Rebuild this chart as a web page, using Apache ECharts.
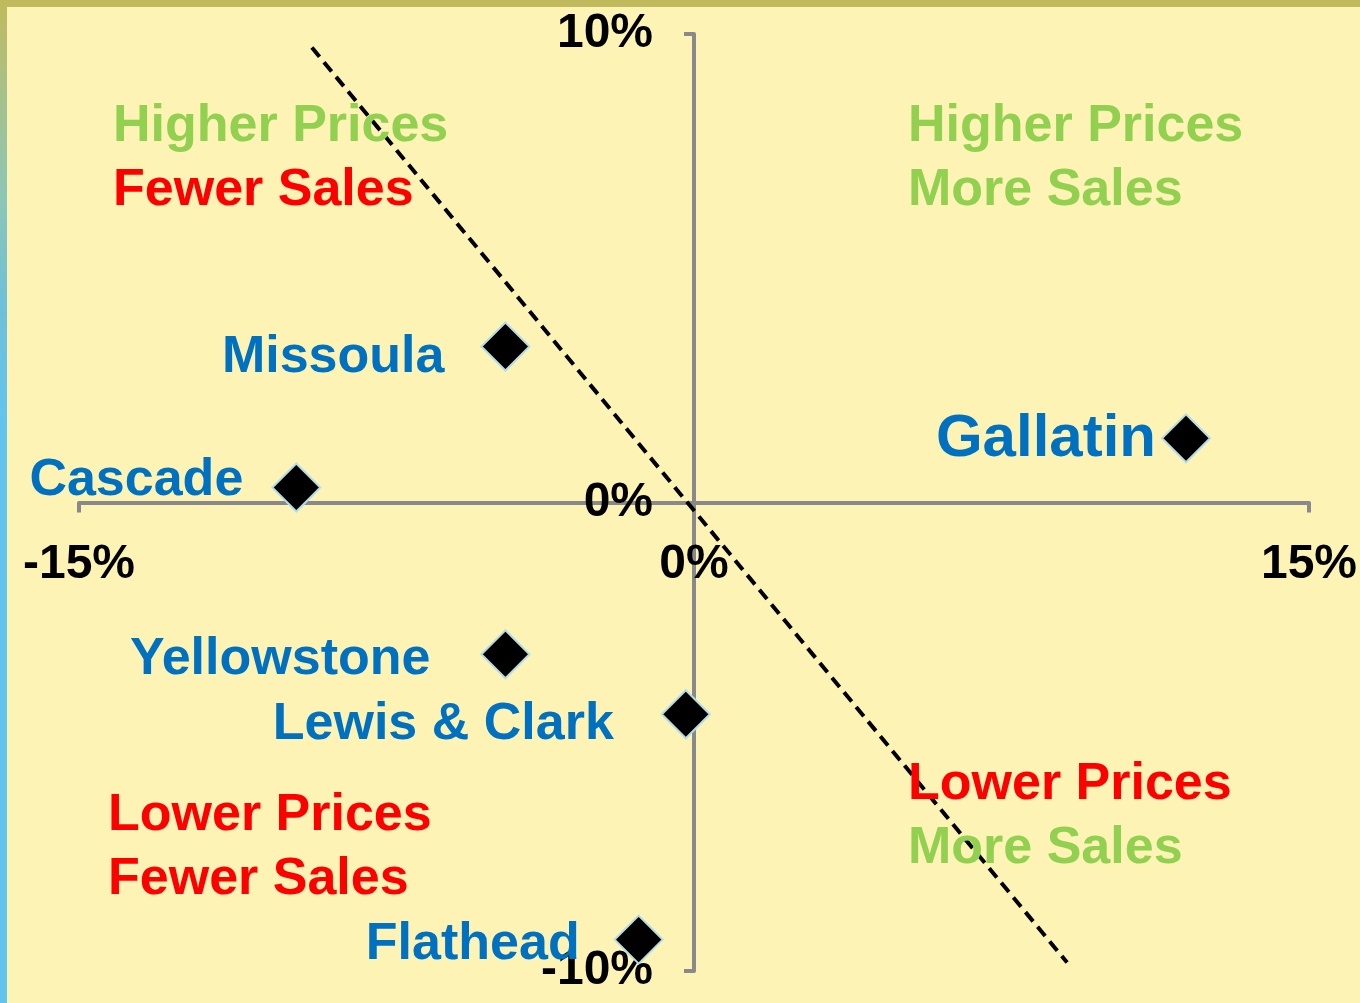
<!DOCTYPE html>
<html>
<head>
<meta charset="utf-8">
<script src="https://cdn.jsdelivr.net/npm/echarts@6/dist/echarts.min.js"></script>
<style>
html,body{margin:0;padding:0;background:#FDF3B5;}
#chart{width:1360px;height:1003px;}
</style>
</head>
<body>
<div id="chart"></div>
<script>
// Data (% change in sales on x, % change in price on y)
var counties = ['Missoula', 'Gallatin', 'Cascade', 'Yellowstone', 'Lewis & Clark', 'Flathead'];
var salesChange = [-4.6, 12.0, -9.7, -4.6, -0.2, -1.35];
var priceChange = [3.33, 1.37, 0.32, -3.24, -4.52, -9.33];
var trendX = [-9.32, 9.1];
var trendY = [9.71, -9.82];
var xTicks = [-15, 0, 15];
var yTicks = [-10, 0, 10];

// label styling (not data)
var labelDist = [36, 5, 28, 50, 47, 34];
var labelDy = [11, 1, -7, 5, 10, 5];
var labelSize = [52, 60, 52, 52, 52, 52];

var FONT = '"Liberation Sans", Arial, sans-serif';
var GREEN = '#92D050', RED = '#FF0000', BLUE = '#0070C0';

var W = 1360, H = 1003;
var G = { left: 79, right: 51, top: 34, bottom: 32 };
var plotW = W - G.left - G.right, plotH = H - G.top - G.bottom;
var xMin = xTicks[0], xMax = xTicks[xTicks.length - 1];
var yMin = yTicks[0], yMax = yTicks[yTicks.length - 1];
// move axes (with their labels) to cross at zero
var yAxisOffset = -((0 - xMin) / (xMax - xMin)) * plotW;
var xAxisOffset = -((0 - yMin) / (yMax - yMin)) * plotH;

var points = counties.map(function (n, i) {
  return {
    name: n,
    value: [salesChange[i], priceChange[i]],
    label: { distance: labelDist[i], offset: [0, labelDy[i]], fontSize: labelSize[i] }
  };
});

function qText(x, y, txt, color) {
  return {
    type: 'text', left: x, top: y - 23, z: 5,
    style: { text: txt, fill: color, font: 'bold 52px ' + FONT, verticalAlign: 'top' }
  };
}

var chart = echarts.init(document.getElementById('chart'), null, { renderer: 'canvas' });
chart.setOption({
  backgroundColor: '#FDF3B5',
  animation: false,
  grid: { left: G.left, right: G.right, top: G.top, bottom: G.bottom, containLabel: false, outerBoundsMode: 'none' },
  xAxis: {
    type: 'value', min: xMin, max: xMax, interval: 15, position: 'bottom', offset: xAxisOffset,
    axisLine: { onZero: false, lineStyle: { color: '#898989', width: 4 } },
    axisTick: { show: true, length: 10, lineStyle: { color: '#898989', width: 4 } },
    splitLine: { show: false },
    axisLabel: {
      margin: 38, fontSize: 48, fontWeight: 'bold', color: '#000', fontFamily: FONT,
      showMinLabel: true, showMaxLabel: true,
      formatter: function (v) { return v + '%'; }
    }
  },
  yAxis: {
    type: 'value', min: yMin, max: yMax, interval: 10, position: 'left', offset: yAxisOffset,
    axisLine: { onZero: false, lineStyle: { color: '#898989', width: 4 } },
    axisTick: { show: true, length: 10, lineStyle: { color: '#898989', width: 4 } },
    splitLine: { show: false },
    axisLabel: {
      margin: 41, fontSize: 48, fontWeight: 'bold', color: '#000', fontFamily: FONT,
      padding: [8, 0, 0, 0],
      showMinLabel: true, showMaxLabel: true,
      formatter: function (v) { return v + '%'; }
    }
  },
  graphic: [
    { type: 'rect', shape: { x: 0, y: 0, width: 1360, height: 7 }, style: { fill: '#C1BA5C' }, z: 10 },
    { type: 'rect', shape: { x: 0, y: 0, width: 7, height: 1003 }, z: 11,
      style: { fill: new echarts.graphic.LinearGradient(0, 0, 0, 1, [
        { offset: 0, color: '#C0BA5C' },
        { offset: 0.1, color: '#A6C18E' },
        { offset: 0.2, color: '#8CC6B8' },
        { offset: 0.3, color: '#70C0D8' },
        { offset: 0.42, color: '#62C4EE' },
        { offset: 1, color: '#62C4EE' }
      ]) } },
    qText(113, 124, 'Higher Prices', GREEN),
    qText(113, 188, 'Fewer Sales', RED),
    qText(908, 124, 'Higher Prices', GREEN),
    qText(908, 188, 'More Sales', GREEN),
    qText(908, 782, 'Lower Prices', RED),
    qText(908, 846, 'More Sales', GREEN),
    qText(108, 813, 'Lower Prices', RED),
    qText(108, 877, 'Fewer Sales', RED)
  ],
  series: [
    {
      type: 'line', z: 3,
      data: trendX.map(function (x, i) { return [x, trendY[i]]; }),
      symbol: 'none', silent: true,
      lineStyle: { color: '#000', width: 4, type: [12, 7] }
    },
    {
      type: 'scatter', z: 4,
      symbol: 'diamond', symbolSize: 48,
      itemStyle: { color: '#000', opacity: 1, borderColor: '#B4DCE8', borderWidth: 2 },
      label: {
        show: true, position: 'left', formatter: '{b}', opacity: 1,
        color: BLUE, fontWeight: 'bold', fontFamily: FONT
      },
      data: points
    }
  ]
});
</script>
</body>
</html>
